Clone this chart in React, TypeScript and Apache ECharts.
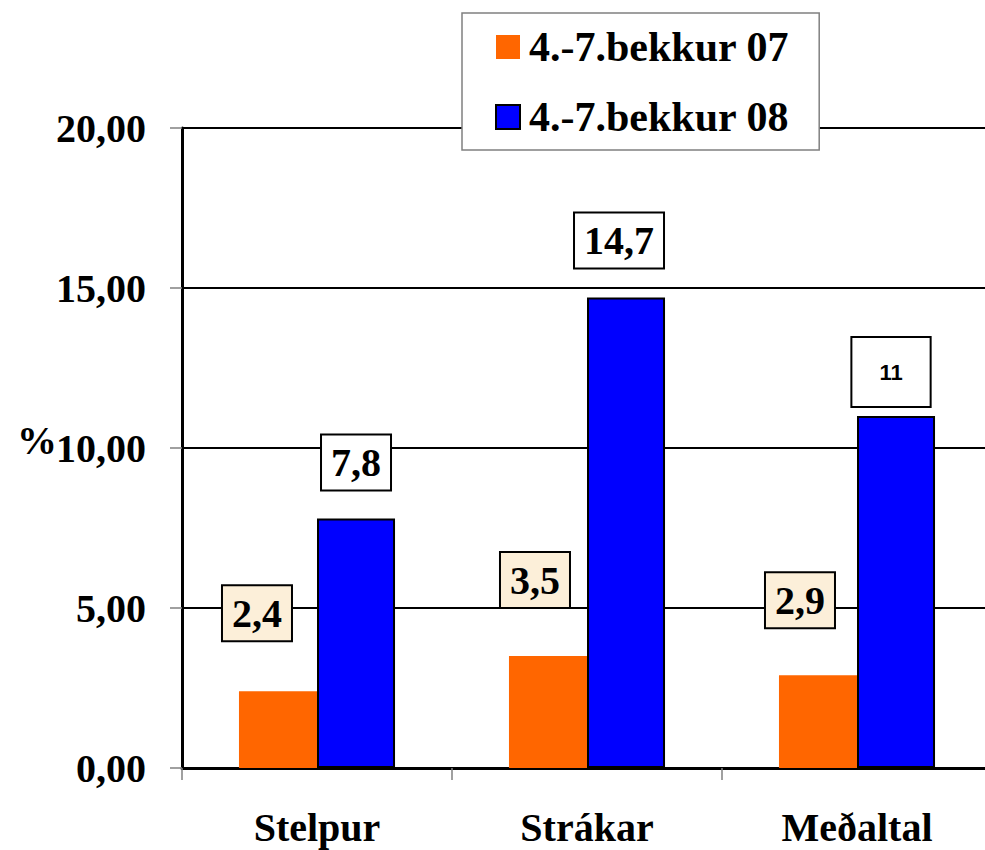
import React, { useEffect, useRef } from "react";
import * as echarts from "echarts";

const categories = ["Stelpur", "Strákar", "Meðaltal"];
const seriesNames = ["4.-7.bekkur 07", "4.-7.bekkur 08"];
const values07 = [2.4, 3.5, 2.9];
const values08 = [7.8, 14.7, 11];
const yTicks = { min: 0, max: 20, interval: 5 };

// label placement styles (not data)
const offsets07 = [-21, -13, -18];
const distances07 = [51, 49, 48];
const offsets08 = [0, -7, -5];
const distances08 = [29, 30, 10];

const SERIF = "'Liberation Serif', 'Times New Roman', serif";
const SANS = "'Liberation Sans', Arial, sans-serif";

const fmt = (v: number) => String(v).replace(".", ",");

export default function App() {
  const ref = useRef<HTMLDivElement>(null);
  useEffect(() => {
    if (!ref.current) return;
    const chart = echarts.init(ref.current, undefined, { renderer: "svg" });
    const boxLabel = (bg: string) => ({
      show: true,
      position: "top",
      formatter: (p: any) => fmt(p.value),
      fontFamily: SERIF,
      fontWeight: "bold",
      fontSize: 40,
      lineHeight: 40,
      color: "#000",
      backgroundColor: bg,
      borderColor: "#000",
      borderWidth: 2,
      padding: [7, 9],
    });
    const option: any = {
      animation: false,
      backgroundColor: "#fff",
      grid: {
        left: 182,
        width: 810,
        top: 128,
        bottom: 82,
        containLabel: false,
        outerBoundsMode: "none",
      },
      legend: {
        orient: "vertical",
        left: 462,
        top: 13,
        padding: [11, 30, 10, 33],
        itemGap: 24,
        itemWidth: 24,
        itemHeight: 24,
        icon: "rect",
        backgroundColor: "#fff",
        borderColor: "#808080",
        borderWidth: 1.5,
        textStyle: {
          fontFamily: SERIF,
          fontWeight: "bold",
          fontSize: 42,
          lineHeight: 46,
          color: "#000",
          padding: [0, 0, 0, 4],
        },
        data: seriesNames,
        z: 10,
      },
      xAxis: {
        type: "category",
        data: categories,
        axisLine: { show: true, lineStyle: { color: "#000", width: 3 } },
        axisTick: { show: true, length: 12, lineStyle: { color: "#808080", width: 1.5 } },
        axisLabel: {
          fontFamily: SERIF,
          fontWeight: "bold",
          fontSize: 40,
          lineHeight: 40,
          color: "#000",
          margin: 39,
        },
        splitLine: { show: false },
      },
      yAxis: {
        type: "value",
        min: yTicks.min,
        max: yTicks.max,
        interval: yTicks.interval,
        axisLine: { show: true, lineStyle: { color: "#000", width: 3 } },
        axisTick: { show: true, length: 12, lineStyle: { color: "#808080", width: 1.5 } },
        axisLabel: {
          fontFamily: SERIF,
          fontWeight: "bold",
          fontSize: 40,
          color: "#000",
          margin: 36,
          formatter: (v: number) => v.toFixed(2).replace(".", ","),
        },
        splitLine: { show: true, lineStyle: { color: "#000", width: 2 } },
      },
      series: [
        {
          name: seriesNames[0],
          type: "bar",
          barGap: "0%",
          barCategoryGap: "42.2%",
          itemStyle: { color: "#FF6600" },
          data: values07.map((v, i) => ({
            value: v,
            label: {
              ...boxLabel("#FCEFD9"),
              distance: distances07[i],
              offset: [offsets07[i], 0],
            },
          })),
        },
        {
          name: seriesNames[1],
          type: "bar",
          barGap: "0%",
          barCategoryGap: "42.2%",
          itemStyle: { color: "#0000FF", borderColor: "#000", borderWidth: 2 },
          data: values08.map((v, i) => {
            const base: any = { ...boxLabel("#fff"), distance: distances08[i], offset: [offsets08[i], 0] };
            if (i === 2) {
              base.fontFamily = SANS;
              base.fontSize = 22;
              base.lineHeight = 22;
              base.padding = [23, 27];
            }
            return { value: v, label: base };
          }),
        },
      ],
      graphic: [
        {
          type: "text",
          left: 17,
          top: 420,
          style: {
            text: "%",
            fontFamily: SERIF,
            fontWeight: "bold",
            fontSize: 40,
            fill: "#000",
          },
        },
      ],
    };
    chart.setOption(option);
    return () => chart.dispose();
  }, []);
  return (
    <div
      style={{
        position: "fixed",
        left: 0,
        top: 0,
        width: 985,
        height: 850,
        overflow: "hidden",
        background: "#fff",
      }}
    >
      <div ref={ref} style={{ width: 1000, height: 850 }} />
    </div>
  );
}
